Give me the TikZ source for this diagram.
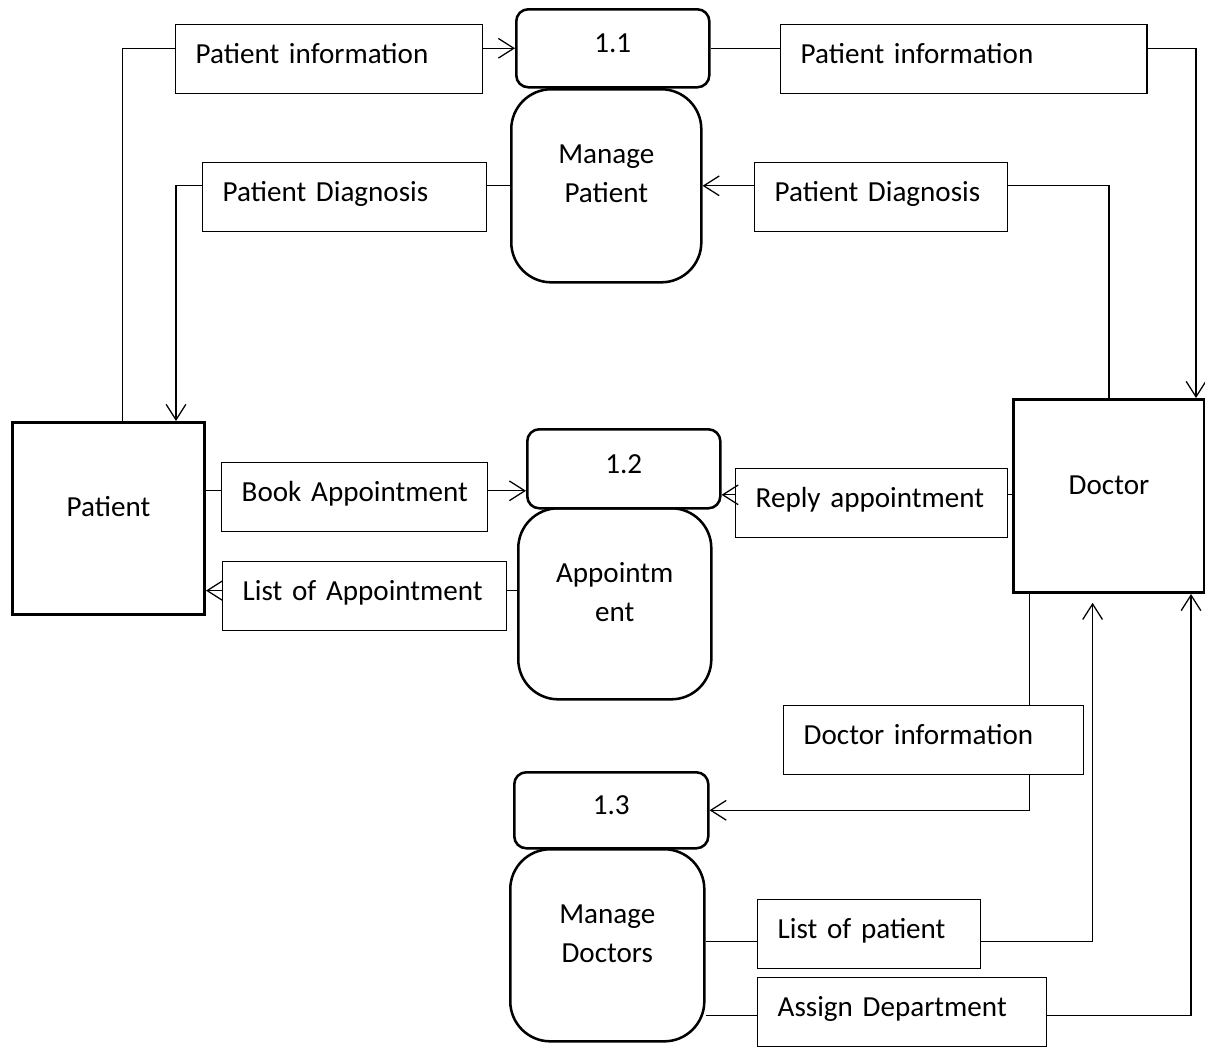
\documentclass[tikz,border=0pt]{standalone}
\usepackage{fontspec}
\setmainfont{Carlito}
\usetikzlibrary{arrows.meta,positioning,calc}

\begin{document}
\begin{tikzpicture}[x=0.025cm, y=-0.025cm,
          font=\fontsize{20.7}{27.6}\selectfont,
          entity/.style={draw, line width=2.1pt, anchor=north west, inner sep=0pt, text height=0.75em, text depth=0.34cm},
          process/.style={draw, line width=1.8pt, rounded corners=1cm, anchor=north west, inner sep=0pt, align=center, text depth=0.6cm},
          procnum/.style={draw, line width=1.8pt, rounded corners=0.3cm, anchor=north west, inner sep=0pt, text height=0.75em, text depth=0.05cm},
          flow/.style={draw, line width=1pt, anchor=north west, inner xsep=0.5cm, inner ysep=0pt, minimum height=1.725cm, align=left, text height=0.75em, text depth=0.07cm},
          flowline/.style={line width=0.9pt},
          flowarrow/.style={line width=0.9pt, -{Straight Barb[length=11pt,width=14pt]}}
        ]
          \useasboundingbox (0,0) rectangle (1205,1048);

          % Entities
          \node[entity, minimum width=4.8cm, minimum height=4.8cm] (patient) at (11,421) {Patient};
          \node[entity, minimum width=4.775cm, minimum height=4.825cm] (doctor) at (1012,398) {Doctor};

          % Processes
          \node[procnum, minimum width=4.825cm, minimum height=1.95cm] (num1) at (515,8) {1.1};
          \node[process, minimum width=4.75cm, minimum height=4.825cm] (manpat) at (510,88) {Manage\\Patient};
          \node[procnum, minimum width=4.825cm, minimum height=1.975cm] (num2) at (526,428) {1.2};
          \node[process, minimum width=4.825cm, minimum height=4.775cm] (appoint) at (517,507) {Appointm\\ent};
          \node[procnum, minimum width=4.85cm, minimum height=1.9cm] (num3) at (513,771) {1.3};
          \node[process, minimum width=4.85cm, minimum height=4.8cm] (mandoc) at (509,848) {Manage\\Doctors};

          % Data flows
          \node[flow, minimum width=7.675cm, text width=6.675cm] (infoin) at (175,24) {\mbox{Patient information}};
          \node[flow, minimum width=9.15cm, text width=8.15cm] (infoout) at (780,24) {\mbox{Patient information}};
          \node[flow, minimum width=7.1cm, text width=6.1cm] (diagout) at (202,162) {\mbox{Patient Diagnosis}};
          \node[flow, minimum width=6.325cm, text width=5.325cm] (diagin) at (754,162) {\mbox{Patient Diagnosis}};
          \node[flow, minimum width=6.65cm, text width=5.65cm] (book) at (221,462) {\mbox{Book Appointment}};
          \node[flow, minimum width=7.1cm, text width=6.1cm] (applist) at (222,561) {\mbox{List of Appointment}};
          \node[flow, minimum width=6.8cm, text width=5.8cm] (reply) at (735,468) {\mbox{Reply appointment}};
          \node[flow, minimum width=7.5cm, text width=6.5cm] (docinfo) at (783,705) {\mbox{Doctor information}};
          \node[flow, minimum width=5.575cm, text width=4.575cm] (patlist) at (757,899) {\mbox{List of patient}};
          \node[flow, minimum width=7.225cm, text width=6.225cm] (assigndep) at (757,977) {\mbox{Assign Department}};

          % 1.1 Manage Patient
          \draw[flowline] ([xshift=0.35cm]patient.north) |- (infoin.west |- num1);
          \draw[flowarrow] (infoin.east |- num1) -- (num1.west);
          \draw[flowline] (num1.east) -- (infoout.west |- num1);
          \draw[flowarrow] (infoout.east |- num1) -| ([xshift=-0.25cm]doctor.north east);
          \draw[flowline] (manpat.west) -- (diagout.east |- manpat);
          \draw[flowarrow] (diagout.west |- manpat) -| ([xshift=-0.75cm]patient.north east);
          \draw[flowarrow] (diagin.west |- manpat) -- (manpat.east);
          \draw[flowline] (diagin.east |- manpat) -| (doctor.north);

          % 1.2 Appointment
          \draw[flowline] ([yshift=0.16cm]book.west -| patient.east) -- ([yshift=0.16cm]book.west);
          \draw[flowarrow] ([yshift=0.16cm]book.east) -- ([yshift=0.16cm]book.east -| num2.west);
          \draw[flowline] ([yshift=0.14cm]applist.east -| appoint.west) -- ([yshift=0.14cm]applist.east);
          \draw[flowarrow] ([yshift=0.14cm]applist.west) -- ([yshift=0.14cm]applist.west -| patient.east);
          \draw[flowline] ([yshift=0.21cm]reply.east -| doctor.west) -- ([yshift=0.21cm]reply.east);
          \draw[flowarrow] ([yshift=0.21cm]reply.west) -- ([yshift=0.21cm]reply.west -| num2.east);

          % 1.3 Manage Doctors
          \draw[flowline] ([xshift=0.43cm]doctor.south west) -- ([xshift=0.43cm]doctor.south west |- docinfo.north);
          \draw[flowarrow] ([xshift=0.43cm]doctor.south west |- docinfo.south) |- (num3.east);
          \draw[flowline] ([yshift=-0.18cm]patlist.west -| mandoc.east) -- ([yshift=-0.18cm]patlist.west);
          \draw[flowarrow] ([yshift=-0.18cm]patlist.east) -| ([xshift=-0.41cm, yshift=-0.22cm]doctor.south);
          \draw[flowline] ([yshift=-0.09cm]assigndep.west -| mandoc.east) -- ([yshift=-0.09cm]assigndep.west);
          \draw[flowarrow] ([yshift=-0.09cm]assigndep.east) -| ([xshift=-0.375cm]doctor.south east);
        \end{tikzpicture}
\end{document}
